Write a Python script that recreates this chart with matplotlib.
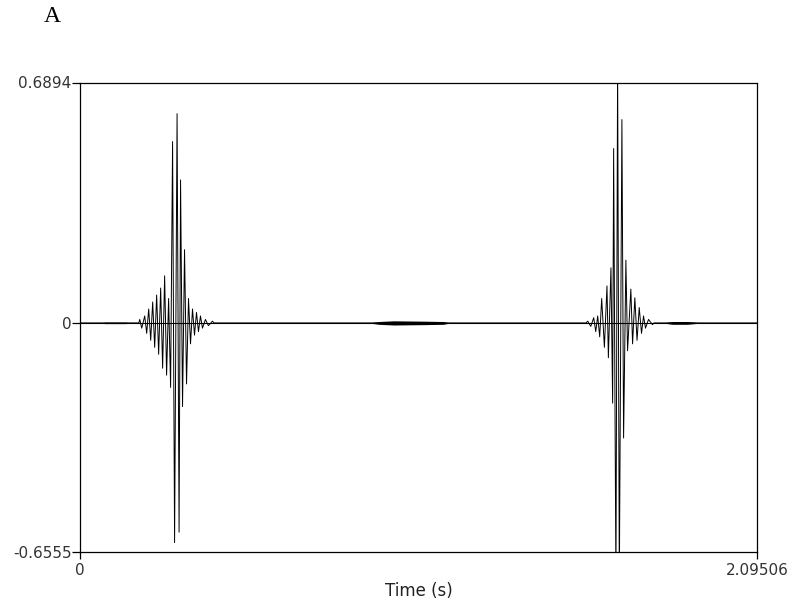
import numpy as np
import matplotlib
matplotlib.use("Agg")
import matplotlib.pyplot as plt

# time axis limits and y range
t_end = 2.09506
y_min, y_max = -0.6555, 0.6894

# first click: extrema of the waveform (time s, amplitude)
burst1_t = [0.1849, 0.1910, 0.2003, 0.2064, 0.2126, 0.2188, 0.2249, 0.2311,
            0.2372, 0.2434, 0.2496, 0.2557, 0.2619, 0.2680, 0.2742, 0.2804,
            0.2865, 0.2927, 0.3004, 0.3066, 0.3112, 0.3173, 0.3235, 0.3297,
            0.3358, 0.3420, 0.3482, 0.3543, 0.3605, 0.3666, 0.3728, 0.3790,
            0.3882, 0.3974, 0.4098]
burst1_a = [0.01, -0.015, 0.02, -0.03, 0.04, -0.05, 0.06, -0.07,
            0.08, -0.09, 0.10, -0.13, 0.135, -0.15, 0.07, -0.185,
            0.52, -0.63, 0.60, -0.60, 0.41, -0.24, 0.21, -0.175,
            0.07, -0.06, 0.04, -0.035, 0.03, -0.025, 0.02, -0.015,
            0.01, -0.008, 0.005]

# second click
burst2_t = [1.5713, 1.5806, 1.5898, 1.5960, 1.6021, 1.6083, 1.6144, 1.6228,
            1.6308, 1.6351, 1.6431, 1.6483, 1.6514, 1.6585, 1.6637, 1.6690,
            1.6770, 1.6822, 1.6893, 1.6945, 1.7047, 1.7100, 1.7170, 1.7238,
            1.7306, 1.7377, 1.7439, 1.7500, 1.7593, 1.7716]
burst2_a = [0.005, -0.01, 0.015, -0.025, 0.02, -0.04, 0.07, -0.07,
            0.106, -0.10, 0.158, -0.23, 0.50, -0.75, 0.75, -0.75,
            0.583, -0.33, 0.18, -0.08, 0.097, -0.06, 0.072, -0.05,
            0.044, -0.03, 0.02, -0.015, 0.01, -0.005]

# low-level noise envelope (time s, half-width)
env_t = [0.0, 0.0616, 0.0770, 0.1386, 0.1695, 0.8935, 0.9243, 0.9705,
         1.0630, 1.1246, 1.1461, 1.8024, 1.8332, 1.8794, 1.9256, 2.09506]
env_a = [0.0, 0.0, 0.002, 0.002, 0.0, 0.0, 0.004, 0.006,
         0.005, 0.004, 0.0, 0.0, 0.004, 0.004, 0.0, 0.0]

wave_t = [0.0, 0.182] + burst1_t + [0.415, 1.566] + burst2_t + [1.776, t_end]
wave_a = [0.0, 0.0] + burst1_a + [0.0, 0.0] + burst2_a + [0.0, 0.0]

fig = plt.figure(figsize=(7.95, 6.03), dpi=100)
ax = fig.add_axes([80 / 795, 1 - 551.5 / 603, 677 / 795, 469 / 603])

env_t = np.array(env_t)
env_a = np.array(env_a)
ax.fill_between(env_t, -env_a, env_a, color="black", linewidth=0)
ax.axhline(0, color="black", lw=0.8)
ax.plot(wave_t, wave_a, color="black", lw=0.7)

ax.set_xlim(0, t_end)
ax.set_ylim(y_min, y_max)

ax.set_xticks([0, t_end])
ax.set_xticklabels(["0", "2.09506"])
ax.set_yticks([y_min, 0, y_max])
ax.set_yticklabels(["-0.6555", "0", "0.6894"])

ax.tick_params(direction="out", length=6, width=0.9, colors="black",
               labelcolor="#333333", labelsize=11)
ax.tick_params(axis="y", pad=0)
ax.tick_params(axis="x", pad=3, length=5)
for s in ax.spines.values():
    s.set_linewidth(0.9)

ax.set_xlabel("Time (s)", fontsize=12, color="#222222", labelpad=3)

fig.text(52 / 795, 1 - 17 / 603, "A", family="Liberation Serif",
         fontsize=17, ha="center", va="center")

fig.savefig("out.png", dpi=100)
